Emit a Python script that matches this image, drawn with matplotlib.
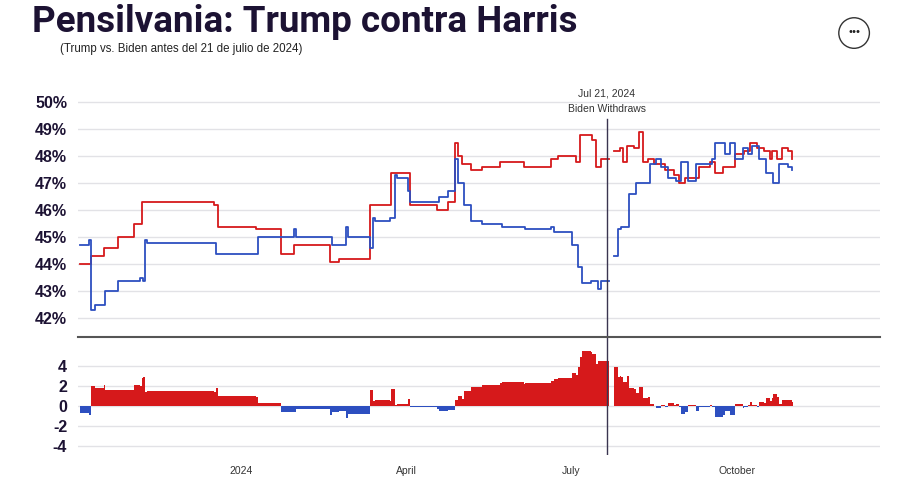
import pandas as pd
import numpy as np
import matplotlib.pyplot as plt
from matplotlib.patches import Ellipse

plt.rcParams['font.family'] = ['Liberation Sans', 'DejaVu Sans']
plt.rcParams['axes.unicode_minus'] = False

# breakpoints: days since 2024-01-01, value (%)
trump_days = [-89, -83, -76, -68, -59, -55, -15, -13, 8, 22, 29, 49, 54, 71, 83, 93, 108,
              114, 118, 120, 122, 127, 133, 143, 156, 171, 175, 185, 187, 194, 196, 199,
              206, 209, 211, 213, 217, 220, 222, 225, 228, 234, 239, 242, 245, 253, 259,
              262, 266, 273, 278, 281, 285, 289, 292, 293, 296, 299, 302, 304]
trump_vals = [44.0, 44.3, 44.6, 45.0, 45.5, 46.3, 46.2, 45.4, 45.3, 44.4, 44.7, 44.1, 44.2, 46.2, 47.4, 46.2, 46.0,
              46.3, 48.5, 48.0, 47.7, 47.5, 47.6, 47.8, 47.6, 47.9, 48.0, 47.8, 48.8, 48.6, 47.6, 47.9,
              48.2, 48.3, 47.8, 48.4, 48.3, 48.9, 47.8, 47.9, 47.7, 47.5, 47.3, 47.0, 47.2, 47.6, 47.8,
              47.4, 47.6, 48.1, 48.2, 48.5, 48.3, 48.2, 47.9, 48.2, 47.9, 48.3, 48.2, 47.9]
dem_days = [-89, -84, -83, -81, -75, -68, -56, -54, -53, -52, -14, 9, 29, 30, 50, 58, 59, 71, 73, 74,
            82, 85, 86, 92, 93, 109, 114, 118, 120, 123, 127, 133, 144, 157, 171, 173, 183, 186, 188,
            193, 197, 199, 206, 208, 210, 214, 218, 226, 229, 232, 236, 240, 243, 247, 251, 257, 260,
            262, 267, 270, 273, 277, 280, 282, 286, 290, 294, 297, 302, 304]
dem_vals = [44.7, 44.9, 42.3, 42.5, 43.0, 43.4, 43.5, 43.4, 44.9, 44.8, 44.4, 45.0, 45.3, 45.0, 44.7, 45.4, 45.0, 44.6, 45.7, 45.6,
            45.7, 47.3, 47.2, 46.7, 46.3, 46.5, 46.7, 47.9, 47.0, 46.2, 45.6, 45.5, 45.4, 45.3, 45.4, 45.2, 44.7, 43.9, 43.3,
            43.4, 43.1, 43.4, 44.3, 45.3, 45.4, 46.6, 47.0, 47.7, 47.9, 47.6, 47.2, 47.1, 47.8, 47.1, 47.7, 47.7, 47.9,
            48.5, 48.1, 48.5, 47.9, 48.3, 48.1, 48.4, 47.9, 47.4, 47.0, 47.7, 47.6, 47.5]
gap_start, gap_end = 203, 205  # no data right after Biden withdrew

base = pd.Timestamp('2024-01-01')
days = np.arange(-89, 305)
idx = base + pd.to_timedelta(days, unit='D')
trump = pd.Series(trump_vals, index=trump_days).reindex(days).ffill()
dem = pd.Series(dem_vals, index=dem_days).reindex(days).ffill()
gap = (days >= gap_start) & (days <= gap_end)
trump[gap] = np.nan
dem[gap] = np.nan
spread = (trump - dem).values

RED = '#d6191b'
BLUE = '#2d4fc0'
INK = '#1c1233'

fig = plt.figure(figsize=(9, 4.93), dpi=100)
ax = fig.add_axes([0.087, 0.316, 0.891, 0.501])
ax2 = fig.add_axes([0.087, 0.077, 0.891, 0.239], sharex=ax)

ax.plot(idx, trump.values, color=RED, lw=1.3, drawstyle='steps-post')
ax.plot(idx, dem.values, color=BLUE, lw=1.3, drawstyle='steps-post')
ax.set_ylim(41.3, 50.45)
ax.set_yticks(range(42, 51))
ax.set_yticklabels([f'{v}%' for v in range(42, 51)])
ax.grid(axis='y', color='#e2e2e6', lw=1)
ax.set_xlim(pd.Timestamp('2023-10-03'), pd.Timestamp('2024-12-19'))

colors = [RED if s >= 0 else BLUE for s in np.nan_to_num(spread)]
ax2.bar(idx, np.nan_to_num(spread), width=1.0, color=colors, align='edge')
ax2.set_ylim(-4.9, 6.9)
ax2.set_yticks([-4, -2, 0, 2, 4])
ax2.grid(axis='y', color='#e2e2e6', lw=1)
ax2.set_axisbelow(True)

for a in (ax, ax2):
    for s in a.spines.values():
        s.set_visible(False)
    a.tick_params(axis='y', length=0, labelsize=11.5, labelcolor=INK, pad=8)
    for t in a.get_yticklabels():
        t.set_fontweight('bold')
ax.tick_params(axis='x', length=0, labelbottom=False)
ax2.spines['top'].set_visible(True)
ax2.spines['top'].set_color('#555555')
ax2.spines['top'].set_linewidth(1.5)

xt = [pd.Timestamp(d) for d in ['2024-01-01', '2024-04-01', '2024-07-01', '2024-10-01']]
ax2.set_xticks(xt)
ax2.set_xticklabels(['2024', 'April', 'July', 'October'])
ax2.tick_params(axis='x', length=0, labelsize=7.5, labelcolor='#333333', pad=8)

ev = pd.Timestamp('2024-07-21')
ax.axvline(ev, ymax=0.885, color='#3a3550', lw=1)
ax2.axvline(ev, color='#3a3550', lw=1)
ax.text(ev, 50.33, 'Jul 21, 2024', ha='center', va='center', fontsize=7.5, color='#333333')
ax.text(ev, 49.75, 'Biden Withdraws', ha='center', va='center', fontsize=7.5, color='#333333')

fig.text(0.035, 0.955, 'Pensilvania: Trump contra Harris', fontsize=26.5, fontweight='bold',
         color=INK, va='center', family='Roboto')
fig.text(0.067, 0.9, '(Trump vs. Biden antes del 21 de julio de 2024)', fontsize=8.3,
         color='#222222', va='center')
fig.patches.append(Ellipse((0.949, 0.933), 0.034, 0.062, transform=fig.transFigure,
                           facecolor='white', edgecolor='#333333', lw=1))
fig.text(0.949, 0.936, '•••', ha='center', va='center', fontsize=8, color='#222222')

fig.savefig('out.png', dpi=100)
